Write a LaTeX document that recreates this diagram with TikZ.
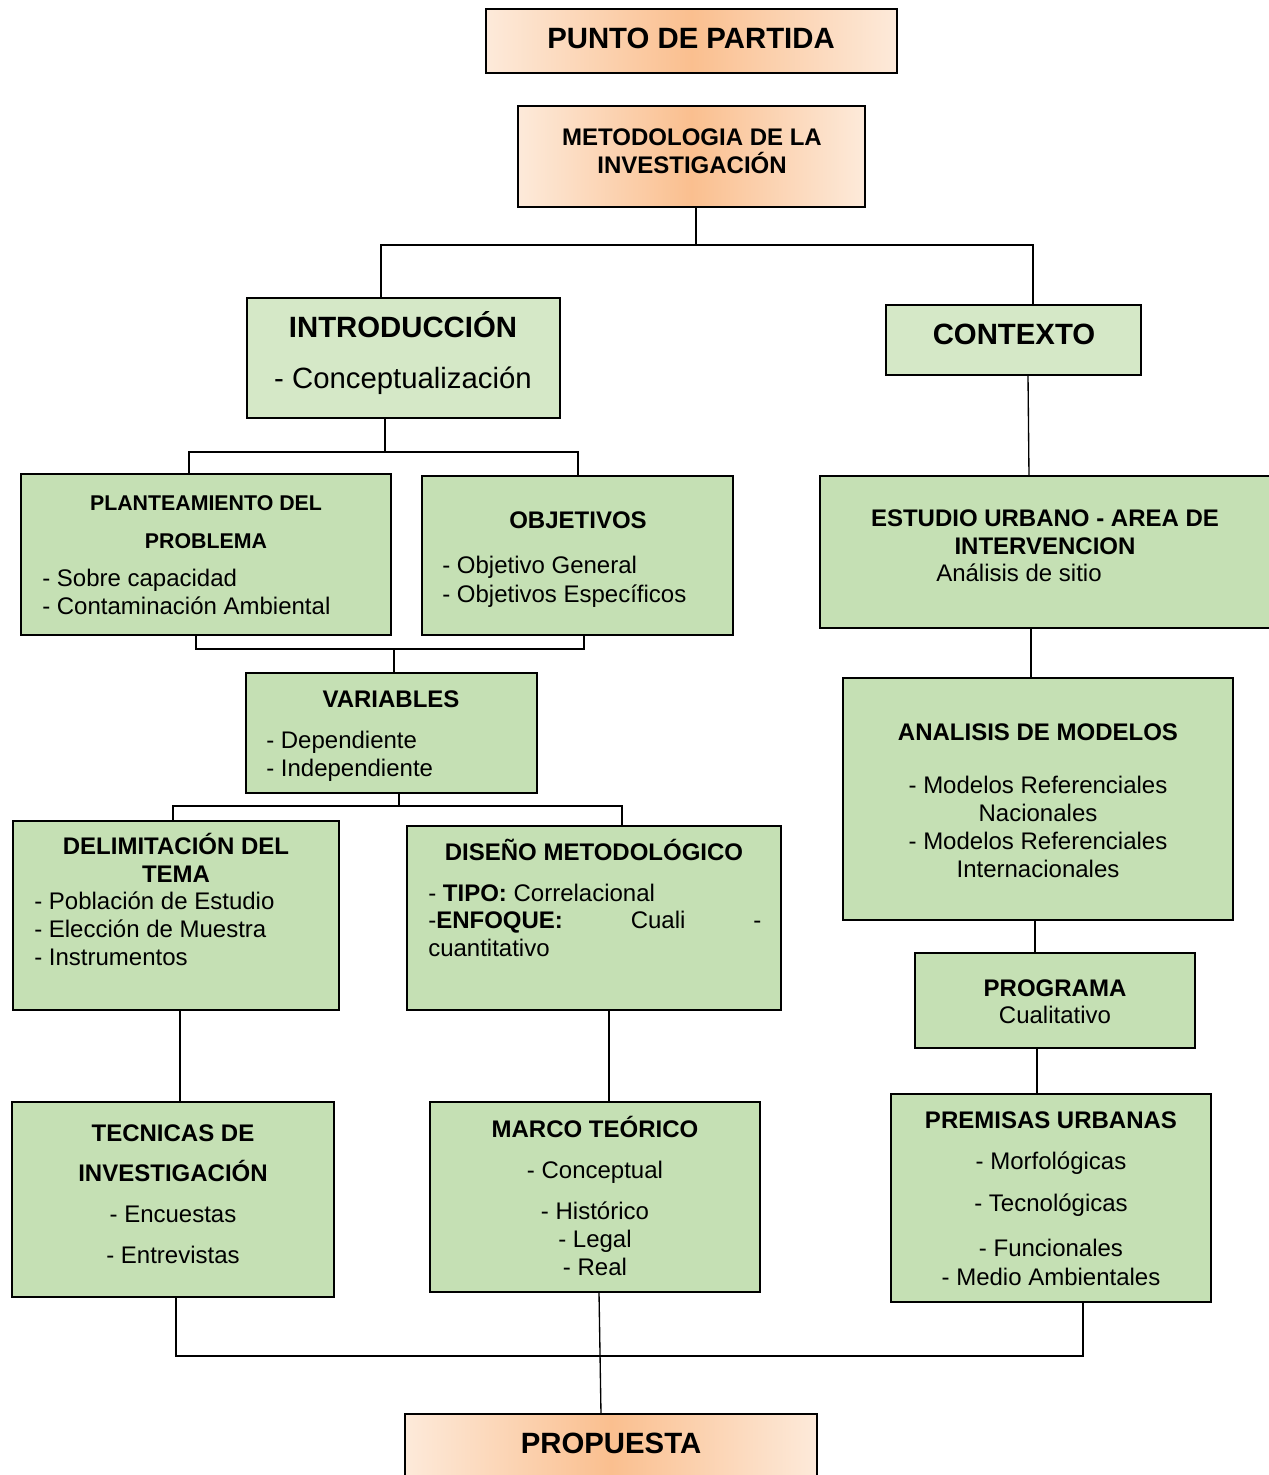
\documentclass[tikz,border=0pt]{standalone}
\usepackage{fontspec}
\setmainfont{Liberation Sans}
\usepackage{tikz}
\definecolor{verde}{RGB}{197,224,180}
\definecolor{verdeclaro}{RGB}{213,232,199}
\definecolor{durazno}{RGB}{253,234,218}
\definecolor{naranja}{RGB}{250,191,143}
\tikzset{box/.style={draw, line width=1.9pt, inner sep=0pt, outer sep=0pt}}
\tikzset{greenbox/.style={box, fill=verde}}
\tikzset{lightbox/.style={box, fill=verdeclaro}}
\tikzset{orangebox/.style={box, left color=durazno, right color=durazno, middle color=naranja}}
\tikzset{tit/.style={anchor=base, inner sep=0pt, font=\fontsize{18}{21}\selectfont\bfseries}}
\tikzset{big/.style={tit, font=\fontsize{22}{26}\selectfont\bfseries}}
\tikzset{bigtxt/.style={tit, font=\fontsize{22}{26}\selectfont}}
\tikzset{sub/.style={tit, font=\fontsize{16}{19}\selectfont\bfseries}}
\tikzset{txt/.style={anchor=base, inner sep=0pt, font=\fontsize{18}{21}\selectfont}}
\tikzset{txtl/.style={txt, anchor=base west}}
\tikzset{link/.style={line width=1pt}}
\tikzset{%
  apply style/.code={%
    \tikzset{#1}%
  }
}

\begin{document}
\begin{tikzpicture}[x=0.75pt,y=-0.75pt]
  \fill[white] (0,0) rectangle (1268,1475);
  \useasboundingbox (0,0) rectangle (1268,1475);
  % boxes
  \foreach \xa/\ya/\xb/\yb/\lab/\style in {
    486/9/897/73/partida/orangebox,
    518/106/865/207/metod/orangebox,
    247/298/560/418/intro/lightbox,
    886/305/1141/375/ctx/lightbox,
    21/474/391/635/plant/greenbox,
    422/476/733/635/obj/greenbox,
    820/476/1274/628/est/greenbox,
    246/673/537/793/var/greenbox,
    843/678/1233/920/ana/greenbox,
    13/821/339/1010/delim/greenbox,
    407/826/781/1010/diseno/greenbox,
    915/953/1195/1048/prog/greenbox,
    12/1102/334/1297/tec/greenbox,
    430/1102/760/1292/marco/greenbox,
    891/1094/1211/1302/prem/greenbox,
    405/1414/817/1482/prop/orangebox%
  } {
    \node[apply style/.expand once=\style,
      minimum width={(\xb-\xa)*0.75pt},
      minimum height={(\yb-\ya)*0.75pt}] (\lab) at ({(\xa+\xb)/2},{(\ya+\yb)/2}) {};
  }
  % texts
  \foreach \x/\y/\sty/\txt/\lab in {
    691/48/big/PUNTO DE PARTIDA/tpartida,
    692/145/tit/METODOLOGIA DE LA/tmetodA,
    692/173/tit/INVESTIGACIÓN/tmetodB,
    403/337/big/INTRODUCCIÓN/tintroA,
    403/388/bigtxt/- Conceptualización/tintroB,
    1014/344/big/CONTEXTO/tctx,
    206/510/sub/PLANTEAMIENTO DEL/tplantA,
    206/548/sub/PROBLEMA/tplantB,
    42/586/txtl/- Sobre capacidad/tplantC,
    42/614/txtl/- Contaminación Ambiental/tplantD,
    578/528/tit/OBJETIVOS/tobjA,
    442/573/txtl/- Objetivo General/tobjB,
    442/602/txtl/- Objetivos Específicos/tobjC,
    1045/526/tit/ESTUDIO URBANO - AREA DE/testA,
    1045/554/tit/INTERVENCION/testB,
    936/581/txtl/Análisis de sitio/testC,
    391/707/tit/VARIABLES/tvarA,
    266/748/txtl/- Dependiente/tvarB,
    266/776/txtl/- Independiente/tvarC,
    1038/740/tit/ANALISIS DE MODELOS/tanaA,
    1038/793/txt/- Modelos Referenciales/tanaB,
    1038/821/txt/Nacionales/tanaC,
    1038/849/txt/- Modelos Referenciales/tanaD,
    1038/877/txt/Internacionales/tanaE,
    176/854/tit/DELIMITACIÓN DEL/tdelA,
    176/882/tit/TEMA/tdelB,
    34/909/txtl/- Población de Estudio/tdelC,
    34/937/txtl/- Elección de Muestra/tdelD,
    34/965/txtl/- Instrumentos/tdelE,
    594/860/tit/DISEÑO METODOLÓGICO/tdisA,
    428/901/txtl/- \textbf{TIPO:} Correlacional/tdisB,
    428/956/txtl/cuantitativo/tdisD,
    1055/996/tit/PROGRAMA/tprogA,
    1055/1023/txt/Cualitativo/tprogB,
    173/1141/tit/TECNICAS DE/ttecA,
    173/1181/tit/INVESTIGACIÓN/ttecB,
    173/1222/txt/- Encuestas/ttecC,
    173/1263/txt/- Entrevistas/ttecD,
    595/1137/tit/MARCO TEÓRICO/tmarA,
    595/1178/txt/- Conceptual/tmarB,
    595/1219/txt/- Histórico/tmarC,
    595/1247/txt/- Legal/tmarD,
    595/1275/txt/- Real/tmarE,
    1051/1128/tit/PREMISAS URBANAS/tpremA,
    1051/1169/txt/- Morfológicas/tpremB,
    1051/1211/txt/- Tecnológicas/tpremC,
    1051/1256/txt/- Funcionales/tpremD,
    1051/1285/txt/- Medio Ambientales/tpremE,
    611/1453/big/PROPUESTA/tprop%
  } {
    \node[apply style/.expand once=\sty] (\lab) at (\x,\y) {\txt};
  }
  \node[txtl] (tdisC) at (428,928) {\makebox[249.75pt]{-\textbf{ENFOQUE:}\hfill Cuali\hfill -}};
  % connectors
  \coordinate (b1) at (696,245);
  \coordinate (b1l) at (381,245);
  \coordinate (b1r) at (1033,245);
  \coordinate (b2) at (385,452);
  \coordinate (b2l) at (189,452);
  \coordinate (b2r) at (578,452);
  \coordinate (b3) at (394,649);
  \coordinate (b3l) at (196,649);
  \coordinate (b3r) at (584,649);
  \coordinate (b4) at (399,806);
  \coordinate (b4l) at (173,806);
  \coordinate (b4r) at (622,806);
  \coordinate (b5l) at (176,1356);
  \coordinate (b5r) at (1083,1356);
  \draw[link] (b1 |- metod.south) -- (b1);
  \draw[link] (b1l |- intro.north) -- (b1l) -- (b1r) -- (b1r |- ctx.north);
  \draw[link] (b2 |- intro.south) -- (b2);
  \draw[link] (b2l |- plant.north) -- (b2l) -- (b2r) -- (b2r |- obj.north);
  \draw[link] (b3l |- plant.south) -- (b3l) -- (b3r) -- (b3r |- obj.south);
  \draw[link] (b3) -- (b3 |- var.north);
  \draw[link] (b4 |- var.south) -- (b4);
  \draw[link] (b4l |- delim.north) -- (b4l) -- (b4r) -- (b4r |- diseno.north);
  \draw[link] (b5l |- tec.south) -- (b5l) -- (b5r) -- (b5r |- prem.south);
  \foreach \a/\xa/\b/\xb in {
    ctx/1028/est/1029,
    est/1031/ana/1031,
    ana/1035/prog/1035,
    prog/1037/prem/1037,
    delim/180/tec/180,
    diseno/609/marco/609,
    marco/599/prop/601%
  }{
    \draw[link] (\a.south -| \xa,0) -- (\b.north -| \xb,0);
  }
\end{tikzpicture}
\end{document}
